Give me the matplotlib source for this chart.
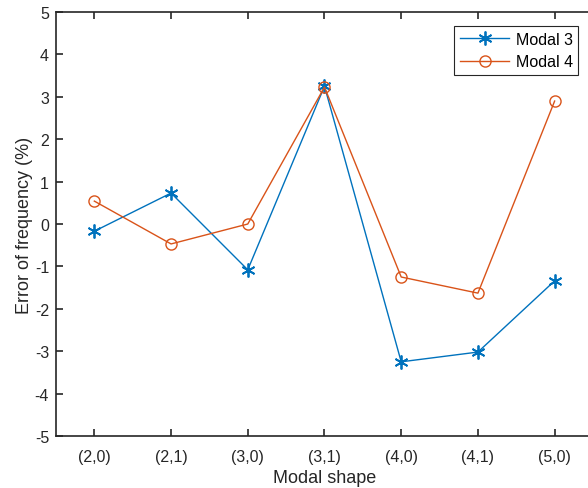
import matplotlib
matplotlib.use('Agg')
import matplotlib.pyplot as plt

plt.rcParams['font.family'] = ['Liberation Sans', 'DejaVu Sans']
plt.rcParams['axes.unicode_minus'] = False

# Datos
shapes = ['(2,0)', '(2,1)', '(3,0)', '(3,1)', '(4,0)', '(4,1)', '(5,0)']
modal3 = [-0.17, 0.73, -1.08, 3.25, -3.25, -3.02, -1.34]
modal4 = [0.54, -0.47, 0.0, 3.23, -1.25, -1.63, 2.90]

x = list(range(1, len(shapes) + 1))

fig = plt.figure(figsize=(5.88, 4.89), dpi=100)
ax = fig.add_axes([0.0952, 0.1063, 0.9133, 0.8671])

ax.plot(x, modal3, color='#0072BD', marker=(6, 2, 0), markersize=10, linewidth=1,
        label='Modal 3', markeredgewidth=1.3)
ax.plot(x, modal4, color='#D95319', marker='o', markersize=8, linewidth=1,
        markerfacecolor='none', label='Modal 4')

ax.set_xlim(0.5, 7.5)
ax.set_ylim(-5, 5)
ax.set_xticks(x)
ax.set_xticklabels(shapes)
ax.set_yticks(range(-5, 6))
ax.tick_params(direction='in', top=True, right=False, length=5, width=1.2,
               colors='#262626', labelsize=11.5)
ax.tick_params(axis='x', pad=9)
ax.tick_params(axis='y', pad=5)
for s in ax.spines.values():
    s.set_color('#262626')
    s.set_linewidth(1.2)
ax.spines['right'].set_visible(False)

ax.set_xlabel('Modal shape', fontsize=13, color='#262626', labelpad=4)
ax.set_ylabel('Error of frequency (%)', fontsize=13, color='#262626', labelpad=1)

leg = ax.legend(loc='upper right', bbox_to_anchor=(0.973, 0.966), fontsize=11.5,
                fancybox=False, edgecolor='#262626', framealpha=1,
                handlelength=3.1, borderpad=0.35, labelspacing=0.45,
                handletextpad=0.4, borderaxespad=0)
leg.get_frame().set_linewidth(0.8)

fig.savefig('out.png', dpi=100)
